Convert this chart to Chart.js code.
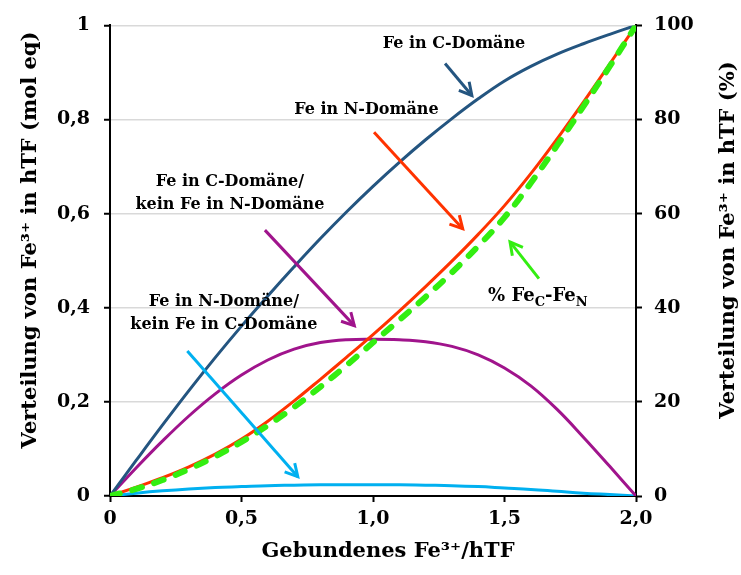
<!DOCTYPE html>
<html>
<head>
<meta charset="utf-8">
<script src="https://cdn.jsdelivr.net/npm/chart.js@4"></script>
<style>
html, body { margin: 0; padding: 0; background: #fff; }
</style>
</head>
<body>
<canvas id="myChart" width="741" height="575"></canvas>
<script>

// Gebundenes Fe3+/hTF
const feBound = [0, 0.1, 0.2, 0.3, 0.4, 0.5, 0.6, 0.7, 0.8, 0.9, 1.0, 1.1, 1.2, 1.3, 1.4, 1.5, 1.6, 1.7, 1.8, 1.9, 2.0];

// left axis (mol eq)
const feInC = [0, 0.076, 0.151, 0.224, 0.294, 0.361, 0.425, 0.487, 0.547, 0.604, 0.658, 0.709, 0.757, 0.802, 0.844, 0.882, 0.913, 0.939, 0.961, 0.981, 1.0];
const feInN = [0, 0.019, 0.039, 0.062, 0.089, 0.121, 0.159, 0.202, 0.248, 0.295, 0.343, 0.393, 0.445, 0.499, 0.556, 0.617, 0.685, 0.759, 0.837, 0.918, 1.0];
const cNotN = [0, 0.06, 0.117, 0.17, 0.217, 0.257, 0.289, 0.312, 0.326, 0.332, 0.333, 0.332, 0.328, 0.318, 0.30, 0.272, 0.234, 0.184, 0.125, 0.063, 0];
const nNotC = [0, 0.006, 0.011, 0.015, 0.018, 0.020, 0.022, 0.023, 0.024, 0.024, 0.024, 0.024, 0.023, 0.022, 0.020, 0.017, 0.014, 0.010, 0.006, 0.003, 0];

// right axis (%)
const pctFeCFeN = [0, 1.5, 3.4, 5.7, 8.4, 11.5, 15.0, 18.9, 23.2, 27.8, 32.6, 37.4, 42.3, 47.5, 53.1, 59.2, 66.5, 74.5, 82.8, 91.3, 100];

const xTicks = [0, 0.5, 1, 1.5, 2];
const xTickLabels = ['0', '0,5', '1,0', '1,5', '2,0'];
const yTicks = [0, 0.2, 0.4, 0.6, 0.8, 1];
const yTickLabels = ['0', '0,2', '0,4', '0,6', '0,8', '1'];
const y2Ticks = [0, 20, 40, 60, 80, 100];
const y2TickLabels = ['0', '20', '40', '60', '80', '100'];

const serif = '"DejaVu Serif", "Liberation Serif", serif';

// labels + arrows, placed in data units of x / left y
const notes = [
    { lines: ['Fe in C-Domäne'], at: [1.308, 0.961], color: '#245580', from: [1.274, 0.919], to: [1.376, 0.851] },
    { lines: ['Fe in N-Domäne'], at: [0.975, 0.820], color: '#ff3300', from: [1.004, 0.773], to: [1.341, 0.568] },
    { lines: ['Fe in C-Domäne/', 'kein Fe in N-Domäne'], at: [0.456, 0.643], color: '#a0148c', from: [0.589, 0.565], to: [0.929, 0.362] },
    { lines: ['Fe in N-Domäne/', 'kein Fe in C-Domäne'], at: [0.433, 0.388], color: '#00b0f0', from: [0.294, 0.308], to: [0.714, 0.041] },
    { parts: [['% Fe', 0], ['C', 1], ['-Fe', 0], ['N', 1]], at: [1.627, 0.425], color: '#33ee11', from: [1.631, 0.462], to: [1.521, 0.540] }
];

function toXY(arr) {
    return feBound.map((x, i) => ({ x: x, y: arr[i] }));
}

function tickOpts(labels) {
    return {
        color: '#000',
        font: { family: serif, size: 19, weight: 'bold' },
        callback: (v, i) => labels[i]
    };
}

const extras = {
    id: 'extras',
    afterDatasetsDraw(chart) {
        const ctx = chart.ctx;
        const xs = chart.scales.x, ys = chart.scales.y;
        ctx.save();
        notes.forEach(n => {
            const x1 = xs.getPixelForValue(n.from[0]), y1 = ys.getPixelForValue(n.from[1]);
            const x2 = xs.getPixelForValue(n.to[0]), y2 = ys.getPixelForValue(n.to[1]);
            ctx.strokeStyle = n.color;
            ctx.lineWidth = 3;
            ctx.lineCap = 'butt';
            ctx.lineJoin = 'miter';
            ctx.beginPath();
            ctx.moveTo(x1, y1);
            ctx.lineTo(x2, y2);
            ctx.stroke();
            const a = Math.atan2(y2 - y1, x2 - x1);
            ctx.beginPath();
            ctx.moveTo(x2 - 14 * Math.cos(a - 0.5), y2 - 14 * Math.sin(a - 0.5));
            ctx.lineTo(x2, y2);
            ctx.lineTo(x2 - 14 * Math.cos(a + 0.5), y2 - 14 * Math.sin(a + 0.5));
            ctx.stroke();

            const cx = xs.getPixelForValue(n.at[0]), cy = ys.getPixelForValue(n.at[1]);
            ctx.fillStyle = '#000';
            ctx.textBaseline = 'middle';
            if (n.lines) {
                ctx.font = 'bold 16px ' + serif;
                ctx.textAlign = 'center';
                const lh = 23.5;
                n.lines.forEach((t, i) => {
                    ctx.fillText(t, cx, cy + (i - (n.lines.length - 1) / 2) * lh);
                });
            } else {
                const big = 'bold 18px ' + serif, small = 'bold 13px ' + serif;
                let w = 0;
                n.parts.forEach(p => { ctx.font = p[1] ? small : big; w += ctx.measureText(p[0]).width; });
                let x = cx - w / 2;
                ctx.textAlign = 'left';
                n.parts.forEach(p => {
                    ctx.font = p[1] ? small : big;
                    ctx.fillText(p[0], x, p[1] ? cy + 7 : cy);
                    x += ctx.measureText(p[0]).width;
                });
            }
        });
        ctx.restore();
    },
    afterDraw(chart) {
        const ctx = chart.ctx;
        ctx.save();
        ctx.fillStyle = '#000';
        ctx.textAlign = 'center';
        ctx.textBaseline = 'middle';
        ctx.font = 'bold 21px ' + serif;
        ctx.fillText('Gebundenes Fe³⁺/hTF', 388, 552);
        [[31, 'Verteilung von Fe³⁺ in hTF (mol eq)'], [729, 'Verteilung von Fe³⁺ in hTF (%)']].forEach(t => {
            ctx.save();
            ctx.translate(t[0], 240);
            ctx.rotate(-Math.PI / 2);
            ctx.fillText(t[1], 0, 0);
            ctx.restore();
        });
        ctx.restore();
    }
};

const ctx = document.getElementById('myChart');

new Chart(ctx, {
    type: 'line',
    data: {
        datasets: [
            { label: '% FeC-FeN', data: toXY(pctFeCFeN), yAxisID: 'y2', borderColor: '#33ee11', borderWidth: 6, borderDash: [10, 13], borderCapStyle: 'round' },
            { label: 'Fe in C-Domäne', data: toXY(feInC), yAxisID: 'y', borderColor: '#245580', borderWidth: 3 },
            { label: 'Fe in N-Domäne', data: toXY(feInN), yAxisID: 'y', borderColor: '#ff3300', borderWidth: 3 },
            { label: 'Fe in C-Domäne/kein Fe in N-Domäne', data: toXY(cNotN), yAxisID: 'y', borderColor: '#a0148c', borderWidth: 3 },
            { label: 'Fe in N-Domäne/kein Fe in C-Domäne', data: toXY(nNotC), yAxisID: 'y', borderColor: '#00b0f0', borderWidth: 3 }
        ]
    },
    options: {
        responsive: false,
        animation: false,
        layout: { padding: { top: 25, left: 0, right: 0, bottom: 0 } },
        elements: { point: { radius: 0 }, line: { tension: 0.4, fill: false } },
        plugins: { legend: { display: false }, tooltip: { enabled: false } },
        scales: {
            x: {
                type: 'linear', min: 0, max: 2,
                afterBuildTicks: s => { s.ticks = xTicks.map(v => ({ value: v })); },
                ticks: Object.assign(tickOpts(xTickLabels), { padding: 6, maxRotation: 0 }),
                grid: { drawOnChartArea: false, tickLength: 6, tickColor: '#000', tickWidth: 2 },
                border: { color: '#000', width: 2 },
                afterFit: s => { s.height = 79; }
            },
            y: {
                position: 'left', min: 0, max: 1,
                afterBuildTicks: s => { s.ticks = yTicks.map(v => ({ value: v })); },
                ticks: Object.assign(tickOpts(yTickLabels), { padding: 14 }),
                grid: { color: '#d9d9d9', lineWidth: 1.5, tickLength: 6, tickColor: '#000', tickWidth: 2 },
                border: { color: '#000', width: 2 },
                afterFit: s => { s.width = 110; }
            },
            y2: {
                position: 'right', min: 0, max: 100,
                afterBuildTicks: s => { s.ticks = y2Ticks.map(v => ({ value: v })); },
                ticks: Object.assign(tickOpts(y2TickLabels), { padding: 12 }),
                grid: { drawOnChartArea: false, tickLength: 6, tickColor: '#000', tickWidth: 2 },
                border: { color: '#000', width: 2 },
                afterFit: s => { s.width = 105; }
            }
        }
    },
    plugins: [extras]
});

</script>
</body>
</html>
